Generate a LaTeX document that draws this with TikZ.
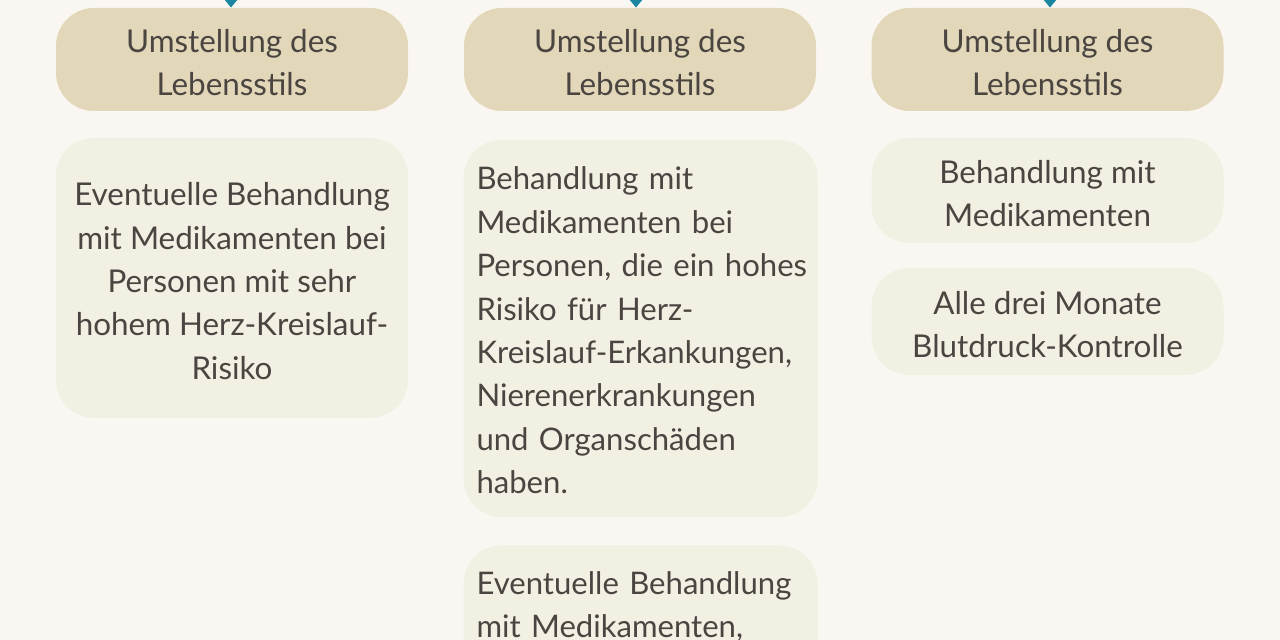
\documentclass[tikz,border=0pt]{standalone}
\usepackage{fontspec}
\setmainfont{Lato}
\usetikzlibrary{arrows.meta}
\definecolor{bgc}{HTML}{FAF7F2}
\definecolor{headc}{HTML}{E3D7BA}
\definecolor{bodyc}{HTML}{F2F0E2}
\definecolor{txtc}{HTML}{4A4540}
\definecolor{arrowc}{HTML}{1A86A0}
\begin{document}
\begin{tikzpicture}[x=0.5pt,y=-0.5pt,
  every node/.style={font=\fontsize{15.7pt}{21.7pt}\selectfont, text=txtc},
  headbox/.style={fill=headc, rounded corners=19pt, minimum width=176pt, minimum height=51.5pt, align=center, inner sep=0pt, text height=36pt, text depth=0pt},
  bodybox/.style={fill=bodyc, rounded corners=19pt, minimum width=176pt, align=center, inner sep=0pt, text depth=0pt},
  leftbox/.style={fill=bodyc, rounded corners=19pt, text width=164pt, inner xsep=6.5pt, align=left, font=\fontsize{15.55pt}{21.7pt}\selectfont},
  arr/.style={draw=arrowc, line width=2.5pt, -{Triangle[length=7pt,width=11pt]}}]
\fill[bgc] (0,0) rectangle (1280,640);
\useasboundingbox (0,0) rectangle (1280,640);
\clip (0,0) rectangle (1280,640);
% headers
\node[headbox] (h1) at (232,59.5) {Umstellung des\\Lebensstils};
\node[headbox] (h2) at (640,59.5) {Umstellung des\\Lebensstils};
\node[headbox] (h3) at (1047.5,59.5) {Umstellung des\\Lebensstils};
% arrows from above
\coordinate (a1) at (231,-40);
\coordinate (a2) at (636,-40);
\coordinate (a3) at (1050,-40);
\draw[arr] (a1) -- (a1 |- h1.north);
\draw[arr] (a2) -- (a2 |- h2.north);
\draw[arr] (a3) -- (a3 |- h3.north);
% column 1
\node[bodybox, minimum height=140pt, text height=101.3pt] (b1) at (232,278)
  {Eventuelle Behandlung\\mit Medikamenten bei\\Personen mit sehr\\hohem Herz-Kreislauf-\\Risiko};
% column 2
\node[leftbox, minimum height=188.5pt, inner ysep=0pt, text height=13.5pt] (b2) at (640.5,328.5)
  {\mbox{Behandlung mit}\\\mbox{Medikamenten bei}\\\mbox{Personen, die ein hohes}\\\mbox{Risiko für Herz-}\\\mbox{Kreislauf-Erkankungen,}\\\mbox{Nierenerkrankungen}\\\mbox{und Organschäden}\\\mbox{haben.}};
\node[leftbox, anchor=north, inner ysep=13pt, text depth=100pt] (b3) at (640.5,545)
  {\mbox{Eventuelle Behandlung}\\\mbox{mit Medikamenten,}};
% column 3
\node[bodybox, minimum height=52.5pt, text height=36pt] (c1) at (1047.5,190.5) {Behandlung mit\\Medikamenten};
\node[bodybox, minimum height=53.5pt, text height=36pt] (c2) at (1047.5,321.5) {Alle drei Monate\\Blutdruck-Kontrolle};
\end{tikzpicture}
\end{document}
